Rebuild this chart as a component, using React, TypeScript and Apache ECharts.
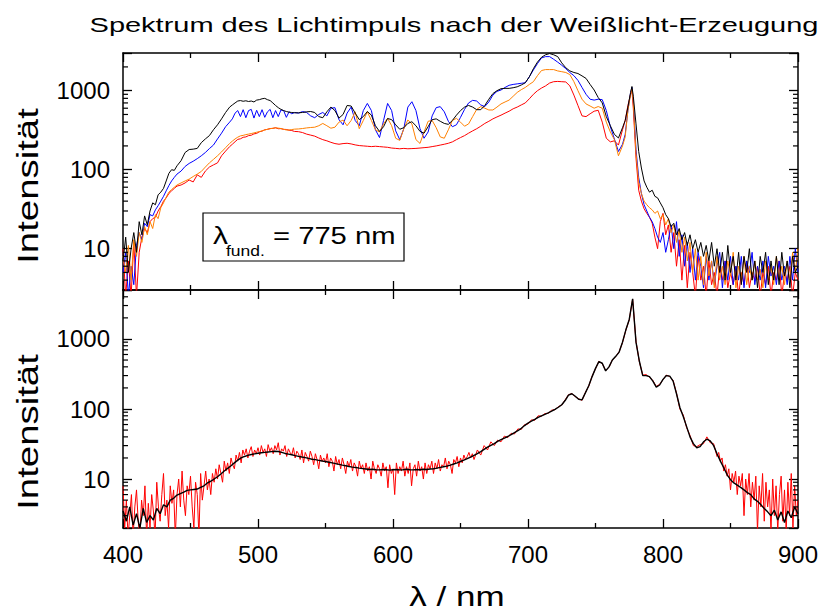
import React, { useEffect, useRef } from "react";
import * as echarts from "echarts";

// ---------- data ----------
const topWavelength = [
  400, 402, 404, 406, 408, 410, 412, 414, 416, 418, 420, 422, 424, 426, 428, 430, 432, 434, 436, 438, 440,
  443, 446, 449, 452, 455, 458, 461, 464, 467, 470, 473, 476, 479,
  481, 483, 485, 487, 489, 491, 493, 495, 497, 499, 501, 503, 505, 507, 509, 511, 513, 515, 517, 519, 521, 523, 525, 527,
  530, 533, 536, 539, 542, 545, 548, 551, 554, 557, 560, 563, 566, 569, 572, 575, 578, 581, 584, 587,
  590, 593, 596, 599, 602, 605, 608, 611, 614, 617, 620, 623, 626, 629, 632, 635, 638, 641, 644, 647,
  650, 653, 656, 659, 662, 665, 668, 671, 674, 677, 680, 683, 686, 689, 692, 695, 698, 701, 704, 707,
  710, 713, 716, 719, 722, 725, 728, 731, 734, 737, 740, 743, 746, 749, 752, 755, 758, 761, 764, 767, 770,
  772, 774, 776, 777, 778, 780,
  782, 784, 786, 788, 790, 792, 794, 796, 798, 800, 802, 804, 806, 808, 810, 812, 814, 816, 818, 820,
  822, 824, 826, 828, 830, 832, 834, 836, 838, 840, 842, 844, 846, 848, 850, 852, 854, 856, 858, 860,
  862, 864, 866, 868, 870, 872, 874, 876, 878, 880, 882, 884, 886, 888, 890, 892, 894, 896, 898, 900,
];

const topBlack = [
  7, 14, 5, 10, 16, 9, 22, 15, 26, 20, 30, 38, 36, 48, 52, 58, 72, 90, 100, 98, 112,
  130, 165, 180, 182, 186, 220, 245, 270, 320, 370, 440, 530, 620,
  660, 700, 740, 750, 735, 745, 730, 740, 720, 760, 770, 790, 800, 770, 750, 700, 650, 610, 580, 560, 545, 535, 530, 525,
  525, 530, 540, 545, 530, 470, 455, 540, 620, 560, 450, 500, 650, 640, 520, 430, 470, 545, 490, 360,
  305, 350, 445, 430, 370, 325, 340, 385, 405, 360, 305, 290, 350, 430, 440, 410, 385, 375, 420, 490,
  560, 620, 650, 620, 575, 575, 650, 780, 920, 1000, 1060, 1070, 1070, 1090, 1120, 1180, 1260, 1500, 1900, 2300,
  2650, 2850, 2950, 2850, 2700, 2250, 1950, 1780, 1700, 1650, 1540, 1430, 1200, 1020, 820, 700, 470, 360, 280, 252, 340,
  420, 620, 950, 1130, 850, 380,
  170, 105, 72, 60, 52, 55, 46, 44, 38, 33, 27, 24, 19, 21, 15, 18, 13, 16, 11, 15,
  10, 13, 9, 12, 8, 11, 7, 12, 6, 10, 5, 9, 4, 11, 5, 8, 4, 9, 3.5, 8,
  5, 10, 4, 7, 3.2, 8, 5, 9, 3.5, 7, 4, 8, 3.5, 9, 4.5, 7, 3.2, 8, 5, 6,
];

const topBlue = [
  5, 9, 2.5, 6, 3.5, 11, 16, 13, 21, 19, 27, 26, 31, 35, 40, 46, 54, 63, 72, 80, 88,
  96, 110, 120, 128, 138, 150, 165, 185, 205, 245, 290, 350, 400,
  440, 520, 560, 470, 575, 455, 560, 580, 450, 565, 470, 575, 460, 540, 580, 455, 560, 470, 570, 560, 460, 540, 510, 530,
  520, 545, 530, 480, 455, 500, 530, 480, 600, 610, 430, 370, 520, 620, 420, 360, 560, 690, 560, 320,
  255, 420, 690, 560, 310, 240, 330, 620, 725, 560, 330, 250, 300, 480, 610, 628, 540, 410, 350, 370,
  460, 580, 700, 755, 740, 660, 630, 720, 880, 980, 1020, 1100, 1170, 1200, 1220, 1240, 1260, 1500, 1830, 2200,
  2600, 2700, 2700, 2500, 2300, 2100, 1900, 1700, 1550, 1350, 1100, 900, 780, 760, 780, 770, 560, 350, 245, 170, 210,
  280, 560, 950, 1100, 760, 180,
  80, 50, 36, 30, 25, 22, 18, 14, 12, 16, 9, 13, 20, 10, 22, 8, 15, 6, 12, 5,
  10, 4, 9, 6, 3.2, 8, 4, 7, 3.5, 6, 9, 3.2, 7, 4, 8, 3.5, 6, 4, 8, 3.2,
  7, 5, 9, 3.5, 6, 4, 7, 3.2, 8, 4.5, 6, 3.5, 7, 4, 6, 3.5, 8, 4, 10, 5,
];

const topOrange = [
  8, 5, 11, 4, 13, 8, 16, 12, 19, 15, 22, 18, 27, 24, 33, 38, 45, 52, 56, 60, 64,
  68, 72, 76, 82, 88, 95, 108, 122, 135, 150, 168, 190, 215,
  230, 245, 258, 268, 272, 278, 282, 287, 292, 298, 303, 310, 318, 325, 330, 335, 338, 336, 332, 325, 318, 318, 322, 326,
  328, 332, 338, 342, 345, 360, 385, 360, 335, 345, 400, 425, 360, 420, 540, 330, 420, 540, 420, 320,
  300, 380, 447, 360, 250, 235, 330, 426, 380, 240, 215, 300, 410, 420, 340, 260, 250, 320, 420, 447,
  400, 355, 380, 470, 580, 628, 600, 570, 570, 620, 680, 720, 760, 850, 950, 1030, 1100, 1200, 1300, 1550,
  1800, 1850, 1850, 1850, 1780, 1740, 1700, 1600, 1300, 1000, 780, 680, 640, 600, 630, 600, 400, 300, 240, 150, 200,
  260, 560, 900, 1050, 700, 160,
  70, 50, 40, 36, 33, 31, 28, 30, 24, 27, 20, 24, 16, 20, 12, 17, 9, 14, 7, 12,
  5, 10, 4, 8, 3.5, 9, 4.5, 7, 3.2, 8, 4, 6, 3.5, 7, 4.5, 9, 3.2, 6, 4, 8,
  3.5, 6, 4, 7, 4, 5.5, 3.2, 7, 4, 6, 3.5, 8, 4, 6, 3.5, 7, 4, 9, 5, 10,
];

const topRed = [
  10, 2.5, 7, 2.5, 12, 2.5, 9, 14, 18, 16, 22, 24, 25, 30, 34, 40, 44, 50, 54, 58, 62,
  64, 68, 74, 70, 86, 80, 96, 108, 115, 122, 150, 172, 196,
  210, 226, 242, 246, 257, 260, 270, 273, 284, 288, 302, 308, 320, 324, 332, 333, 340, 330, 331, 324, 323, 316, 313, 305,
  303, 295, 282, 274, 266, 252, 240, 232, 222, 214, 210, 214, 216, 212, 206, 202, 200, 198, 196, 198,
  196, 194, 192, 188, 186, 184, 186, 184, 185, 186, 188, 190, 192, 196, 200, 205, 210, 216, 225, 240,
  255, 270, 290, 310, 330, 355, 385, 410, 440, 465, 490, 520, 550, 590, 620, 660, 700, 790, 900, 1000,
  1080, 1150, 1250, 1300, 1310, 1300, 1290, 1150, 880, 650, 480, 470, 510, 550, 565, 400, 250, 225, 232, 205, 320,
  420, 650, 900, 1000, 600, 140,
  55, 40, 32, 28, 25, 21, 14, 10, 22, 28, 15, 20, 9, 16, 6, 13, 4, 11, 3.2, 9,
  5, 2.5, 8, 4, 6, 2.5, 7, 3.5, 5, 2.5, 6, 4, 7, 3.2, 5, 3.5, 6, 2.5, 5, 3.5,
  7, 3.2, 5, 4, 6, 2.5, 5, 3.5, 6, 2.5, 5, 4, 7, 2.5, 5, 4, 6, 2.5, 5, 4,
];

// bottom panel: measured spectrum (red), sampled densely where it is noisy
const bottomMeasuredWavelength = [
  400, 401.25, 402.5, 403.75, 405, 406.25, 407.5, 408.75,
  410, 411.25, 412.5, 413.75, 415, 416.25, 417.5, 418.75,
  420, 421.25, 422.5, 423.75, 425, 426.25, 427.5, 428.75,
  430, 431.25, 432.5, 433.75, 435, 436.25, 437.5, 438.75,
  440, 441.25, 442.5, 443.75, 445, 446.25, 447.5, 448.75,
  450, 451.25, 452.5, 453.75, 455, 456.25, 457.5, 458.75,
  460, 461.25, 462.5, 463.75, 465, 466.25, 467.5, 468.75,
  470, 471.25, 472.5, 473.75, 475, 476.25, 477.5, 478.75,
  480, 481.25, 482.5, 483.75, 485, 486.25, 487.5, 488.75,
  490, 491.25, 492.5, 493.75, 495, 496.25, 497.5, 498.75,
  500, 501.25, 502.5, 503.75, 505, 506.25, 507.5, 508.75,
  510, 511.25, 512.5, 513.75, 515, 516.25, 517.5, 518.75,
  520, 521.25, 522.5, 523.75, 525, 526.25, 527.5, 528.75,
  530, 531.25, 532.5, 533.75, 535, 536.25, 537.5, 538.75,
  540, 541.25, 542.5, 543.75, 545, 546.25, 547.5, 548.75,
  550, 551.25, 552.5, 553.75, 555, 556.25, 557.5, 558.75,
  560, 561.25, 562.5, 563.75, 565, 566.25, 567.5, 568.75,
  570, 571.25, 572.5, 573.75, 575, 576.25, 577.5, 578.75,
  580, 581.25, 582.5, 583.75, 585, 586.25, 587.5, 588.75,
  590, 591.25, 592.5, 593.75, 595, 596.25, 597.5, 598.75,
  600, 601.25, 602.5, 603.75, 605, 606.25, 607.5, 608.75,
  610, 611.25, 612.5, 613.75, 615, 616.25, 617.5, 618.75,
  620, 621.25, 622.5, 623.75, 625, 626.25, 627.5, 628.75,
  630, 631.25, 632.5, 633.75, 635, 636.25, 637.5, 638.75,
  640, 641.25, 642.5, 643.75, 645, 646.25, 647.5, 648.75,
  650, 651.25, 652.5, 653.75, 655, 656.25, 657.5, 658.75,
  660, 662.5, 665, 667.5, 670, 672.5, 675, 677.5,
  680, 682.5, 685, 687.5, 690, 692.5, 695, 697.5,
  700, 702.5, 705, 707.5, 710, 712.5, 715, 717.5,
  720, 722.5, 725, 727.5, 730, 732.5, 735, 737.5,
  740, 742.5, 745, 747.5, 750, 752.5, 755, 757.5,
  760, 762.5, 765, 767.5, 770, 772.5, 775, 777.5,
  780, 782.5, 785, 787.5, 790, 792.5, 795, 797.5,
  800, 802.5, 805, 807.5, 810, 812.5, 815, 817.5,
  820, 822.5, 825, 827.5, 830, 832.5, 835, 837.5,
  838.75, 840, 841.25, 842.5, 843.75, 845, 846.25, 847.5,
  848.75, 850, 851.25, 852.5, 853.75, 855, 856.25, 857.5,
  858.75, 860, 861.25, 862.5, 863.75, 865, 866.25, 867.5,
  868.75, 870, 871.25, 872.5, 873.75, 875, 876.25, 877.5,
  878.75, 880, 881.25, 882.5, 883.75, 885, 886.25, 887.5,
  888.75, 890, 891.25, 892.5, 893.75, 895, 896.25, 897.5,
  898.75, 900,
];

const bottomMeasured = [
  8, 2, 5, 1.5, 3, 6, 1.5, 4,
  7, 2.5, 1.5, 5, 3, 8, 1.5, 4.5,
  2, 6, 3.5, 1.5, 9, 4, 2.5, 6,
  12, 3, 5, 2, 8, 4.5, 7, 1.5,
  6, 10, 4, 13, 5, 3, 8, 6,
  11, 4, 2, 9, 6, 1.5, 12, 5,
  8, 13, 7, 10, 6, 12, 9, 14,
  10, 16, 12, 9, 18, 13, 17, 12,
  20, 16, 14, 22, 18, 24, 17, 26,
  22, 27, 20, 25, 29, 21, 26, 23,
  28, 22, 30, 24, 27, 21, 31, 25,
  28, 23, 30, 26, 33, 22, 27, 25,
  30, 21, 27, 24, 22, 28, 20, 25,
  23, 19, 26, 17, 24, 21, 18, 25,
  21, 16, 23, 19, 14, 22, 18, 20,
  17, 23, 15, 20, 18, 13, 21, 16,
  19, 14, 20, 16, 12, 18, 15, 19,
  13, 17, 15, 11, 18, 14, 16, 12,
  17, 13, 15, 10, 18, 14, 12, 16,
  14, 11, 17, 13, 15, 7.5, 16, 12,
  14, 6, 17, 12, 15, 13, 18, 11,
  15, 12, 17, 8, 14, 16, 11, 18,
  13, 15, 10, 17, 12, 16, 14, 18,
  12, 17, 14, 19, 13, 16, 15, 20,
  14, 18, 16, 12, 19, 17, 21, 15,
  20, 17, 22, 19, 21, 24, 20, 23,
  19, 26, 22, 30, 26, 34, 30, 36,
  34, 41, 39, 45, 44, 52, 51, 60,
  61, 70, 69, 80, 79, 86, 87, 96,
  98, 108, 114, 135, 160, 166, 150, 140,
  133, 172, 212, 295, 375, 480, 445, 355,
  395, 505, 560, 655, 890, 1340, 1880, 3700,
  920, 470, 305, 310, 285, 255, 210, 225,
  262, 305, 290, 255, 168, 100, 82, 54,
  42, 30, 29, 31, 32, 40, 33, 32,
  26, 21, 24, 18, 20, 13, 16, 11,
  14, 7, 12, 9, 13, 6, 11, 8,
  12, 3, 10, 6, 12, 4, 9, 5,
  11, 1.8, 8, 4, 12, 2.5, 9, 4,
  7, 1.8, 10, 3, 8, 1.8, 6, 11,
  2.5, 7, 1.8, 9, 3, 12, 2, 8,
  3, 5,
];

// bottom panel: smoothed spectrum (black)
const bottomWavelength = [
  400, 402.5, 405, 407.5, 410, 412.5, 415, 417.5, 420, 422.5,
  425, 427.5, 430, 432.5, 435, 437.5, 440, 442.5, 445, 447.5,
  450, 452.5, 455, 457.5, 460, 462.5, 465, 467.5, 470, 472.5,
  475, 477.5, 480, 482.5, 485, 487.5, 490, 492.5, 495, 497.5,
  500, 502.5, 505, 507.5, 510, 512.5, 515, 517.5, 520, 522.5,
  525, 527.5, 530, 532.5, 535, 537.5, 540, 542.5, 545, 547.5,
  550, 552.5, 555, 557.5, 560, 562.5, 565, 567.5, 570, 572.5,
  575, 577.5, 580, 582.5, 585, 587.5, 590, 592.5, 595, 597.5,
  600, 602.5, 605, 607.5, 610, 612.5, 615, 617.5, 620, 622.5,
  625, 627.5, 630, 632.5, 635, 637.5, 640, 642.5, 645, 647.5,
  650, 652.5, 655, 657.5, 660, 662.5, 665, 667.5, 670, 672.5,
  675, 677.5, 680, 682.5, 685, 687.5, 690, 692.5, 695, 697.5,
  700, 702.5, 705, 707.5, 710, 712.5, 715, 717.5, 720, 722.5,
  725, 727.5, 730, 732.5, 735, 737.5, 740, 742.5, 745, 747.5,
  750, 752.5, 755, 757.5, 760, 762.5, 765, 767.5, 770, 772.5,
  775, 777.5, 780, 782.5, 785, 787.5, 790, 792.5, 795, 797.5,
  800, 802.5, 805, 807.5, 810, 812.5, 815, 817.5, 820, 822.5,
  825, 827.5, 830, 832.5, 835, 837.5, 840, 842.5, 845, 847.5,
  850, 852.5, 855, 857.5, 860, 862.5, 865, 867.5, 870, 872.5,
  875, 877.5, 880, 882.5, 885, 887.5, 890, 892.5, 895, 897.5,
  900,
];

const bottomSmoothed = [
  3.5, 2.5, 4, 2.2, 3.2, 2.0, 3.8, 2.4, 3.0, 2.6,
  3.8, 3.2, 4.3, 4.0, 5.0, 5.3, 5.9, 6.2, 6.5, 6.9,
  7.0, 7.1, 7.2, 7.6, 8.0, 8.8, 9.3, 10.0, 10.8, 11.8,
  13.0, 14.2, 15.5, 17.0, 18.6, 20.0, 21.0, 21.8, 22.4, 22.9,
  23.3, 23.7, 24.0, 24.3, 24.6, 24.9, 24.7, 24.0, 23.2, 22.7,
  22.2, 21.6, 21.1, 20.6, 20.2, 19.7, 19.2, 18.9, 18.5, 18.1,
  17.8, 17.4, 17.0, 16.6, 16.2, 15.8, 15.5, 15.1, 14.8, 14.6,
  14.3, 14.1, 13.9, 13.7, 13.8, 13.6, 13.5, 13.7, 13.6, 13.4,
  13.6, 13.7, 13.5, 13.6, 13.8, 13.6, 13.5, 13.7, 13.6, 13.8,
  13.7, 13.9, 14.0, 14.3, 14.7, 15.0, 15.3, 15.8, 16.4, 17.0,
  17.8, 18.6, 19.5, 20.6, 21.8, 23.0, 24.6, 26.5, 28.5, 30.2,
  32.0, 34.5, 36.5, 38.5, 40.5, 43.0, 46.0, 49.0, 53.0, 58.0,
  63, 67, 71, 76, 80, 84, 88, 93, 99, 106,
  115, 132, 158, 165, 152, 138, 135, 170, 215, 290,
  380, 475, 450, 350, 400, 500, 565, 650, 900, 1350,
  1900, 3750, 900, 480, 300, 300, 290, 250, 205, 220,
  265, 300, 295, 250, 165, 105, 78, 56, 40, 32,
  28, 29, 34, 37, 35, 30, 23, 18, 14.5, 11.5,
  9.8, 8.8, 8.2, 7.6, 7.0, 6.4, 6.0, 5.2, 4.8, 4.3,
  3.8, 3.4, 3.0, 3.6, 2.6, 3.4, 2.4, 3.5, 2.8, 4.0,
  3.2,
];

const majorLogTicks = [10, 100, 1000];
const topMinorTicks = [4, 5, 6, 7, 8, 9, 20, 30, 40, 50, 60, 70, 80, 90, 200, 300, 400, 500, 600, 700, 800, 900, 2000];
const bottomMinorTicks = [3, 4, 5, 6, 7, 8, 9, 20, 30, 40, 50, 60, 70, 80, 90, 200, 300, 400, 500, 600, 700, 800, 900, 2000, 3000, 4000];

const titleText = "Spektrum des Lichtimpuls nach der Weißlicht-Erzeugung";
const yAxisTitle = "Intensität";
const xAxisTitle = "λ / nm";

// ---------- helpers ----------
const FONT = "'Liberation Sans', Arial, sans-serif";
const pair = (xs: number[], ys: number[]) => xs.map((x, i) => [x, ys[i]]);
const black = "#000";

const axisLine = { show: true, onZero: false, lineStyle: { color: black, width: 1.5 } };

function xAxisCfg(gridIndex: number, position: string, showLabels: boolean) {
  return {
    type: "value",
    gridIndex,
    position,
    min: 400,
    max: 900,
    interval: 100,
    axisLine,
    axisTick: { show: true, inside: true, length: 9, lineStyle: { color: black, width: 1.3 } },
    minorTick: { show: true, splitNumber: 2, length: 5, lineStyle: { color: black, width: 1.3 } },
    splitLine: { show: false },
    minorSplitLine: { show: false },
    axisLabel: showLabels
      ? { show: true, fontSize: 24, color: black, fontFamily: FONT, margin: 14 }
      : { show: false },
  };
}

function yAxisCfg(gridIndex: number, position: string, min: number, max: number, showLabels: boolean) {
  return {
    type: "log",
    logBase: 10,
    gridIndex,
    position,
    min,
    max,
    axisLine,
    axisTick: { show: true, inside: true, length: 9, lineStyle: { color: black, width: 1.3 } },
    minorTick: { show: false },
    splitLine: { show: false },
    axisLabel: showLabels
      ? {
          show: true,
          fontSize: 24,
          color: black,
          fontFamily: FONT,
          margin: 13,
          formatter: (v: number) => (majorLogTicks.includes(Math.round(v)) ? String(Math.round(v)) : ""),
        }
      : { show: false },
  };
}

function minorTickSeries(xi: number, yi: number, values: number[]) {
  return {
    type: "custom",
    xAxisIndex: xi,
    yAxisIndex: yi,
    silent: true,
    clip: false,
    z: 10,
    encode: { x: 0, y: 1 },
    data: values.map((v) => [400, v]),
    renderItem: (params: any, api: any) => {
      const pt = api.coord([api.value(0), api.value(1)]);
      const cs = params.coordSys;
      const ls = { stroke: black, lineWidth: 1.2 };
      return {
        type: "group",
        children: [
          { type: "line", shape: { x1: cs.x, y1: pt[1], x2: cs.x + 5, y2: pt[1] }, style: ls },
          { type: "line", shape: { x1: cs.x + cs.width - 5, y1: pt[1], x2: cs.x + cs.width, y2: pt[1] }, style: ls },
        ],
      };
    },
  };
}

function lineSeries(xi: number, yi: number, xs: number[], ys: number[], color: string, z: number, width = 1) {
  return {
    type: "line",
    xAxisIndex: xi,
    yAxisIndex: yi,
    data: pair(xs, ys),
    symbol: "none",
    showSymbol: false,
    silent: true,
    clip: true,
    z,
    lineStyle: { color, width },
    itemStyle: { color },
  };
}

export default function App() {
  const ref = useRef<HTMLDivElement>(null);

  useEffect(() => {
    if (!ref.current) return;
    const chart = echarts.init(ref.current, null, { renderer: "svg" });
    const option: any = {
      animation: false,
      backgroundColor: "#fff",
      grid: [
        { left: 123, top: 53, width: 675, height: 237 },
        { left: 123, top: 290, width: 675, height: 238 },
      ],
      xAxis: [
        xAxisCfg(0, "bottom", false),
        xAxisCfg(0, "top", false),
        xAxisCfg(1, "bottom", true),
        xAxisCfg(1, "top", false),
      ],
      yAxis: [
        yAxisCfg(0, "left", 3, 3000, true),
        yAxisCfg(0, "right", 3, 3000, false),
        yAxisCfg(1, "left", 2, 5000, true),
        yAxisCfg(1, "right", 2, 5000, false),
      ],
      series: [
        lineSeries(0, 0, topWavelength, topRed, "#ff0000", 2),
        lineSeries(0, 0, topWavelength, topBlue, "#0000ff", 3),
        lineSeries(0, 0, topWavelength, topOrange, "#ff8000", 4),
        lineSeries(0, 0, topWavelength, topBlack, "#000000", 5),
        lineSeries(2, 2, bottomMeasuredWavelength, bottomMeasured, "#ff0000", 2),
        lineSeries(2, 2, bottomWavelength, bottomSmoothed, "#000000", 3, 1.4),
        minorTickSeries(0, 0, topMinorTicks),
        minorTickSeries(2, 2, bottomMinorTicks),
      ],
      graphic: [
        {
          type: "text",
          x: 454,
          y: 25,
          scaleX: 1.38,
          style: { text: titleText, fontSize: 21, fontFamily: FONT, fill: black, align: "center", verticalAlign: "middle" },
        },
        {
          type: "text",
          x: 28,
          y: 186,
          rotation: Math.PI / 2,
          scaleX: 1.28,
          style: { text: yAxisTitle, fontSize: 30, fontFamily: FONT, fill: black, align: "center", verticalAlign: "middle" },
        },
        {
          type: "text",
          x: 28,
          y: 432,
          rotation: Math.PI / 2,
          scaleX: 1.28,
          style: { text: yAxisTitle, fontSize: 30, fontFamily: FONT, fill: black, align: "center", verticalAlign: "middle" },
        },
        {
          type: "text",
          x: 457,
          y: 596,
          scaleX: 1.25,
          style: { text: xAxisTitle, fontSize: 28, fontFamily: FONT, fill: black, align: "center", verticalAlign: "middle" },
        },
        {
          type: "rect",
          z: 20,
          shape: { x: 203, y: 213, width: 201, height: 48 },
          style: { fill: "#fff", stroke: black, lineWidth: 1.2 },
        },
        {
          type: "text",
          z: 21,
          x: 213,
          y: 236,
          scaleX: 1.25,
          style: { text: "λ", fontSize: 24, fontFamily: FONT, fill: black, align: "left", verticalAlign: "middle" },
        },
        {
          type: "text",
          z: 21,
          x: 226,
          y: 251,
          scaleX: 1.25,
          style: { text: "fund.", fontSize: 14, fontFamily: FONT, fill: black, align: "left", verticalAlign: "middle" },
        },
        {
          type: "text",
          z: 21,
          x: 273,
          y: 236,
          scaleX: 1.27,
          style: { text: "= 775 nm", fontSize: 23, fontFamily: FONT, fill: black, align: "left", verticalAlign: "middle" },
        },
      ],
    };
    chart.setOption(option);
    return () => chart.dispose();
  }, []);

  return (
    <div
      ref={ref}
      style={{ position: "fixed", left: 0, top: 0, width: 823, height: 611, background: "#fff" }}
    />
  );
}
